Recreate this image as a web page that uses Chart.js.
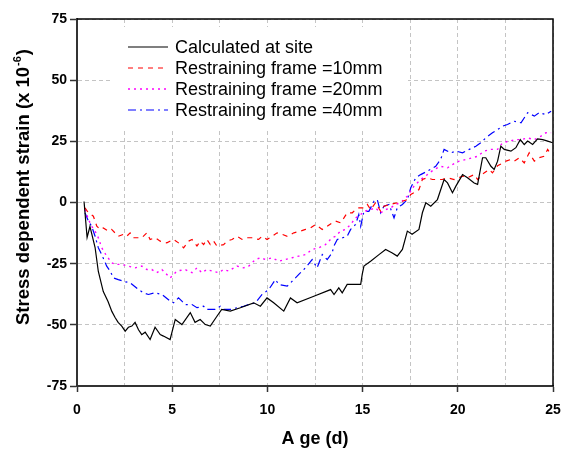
<!DOCTYPE html>
<html>
<head>
<meta charset="utf-8">
<title>Stress dependent strain</title>
<script src="https://cdn.jsdelivr.net/npm/chart.js@4.4.0/dist/chart.umd.min.js"></script>
<style>
  body { margin: 0; background: #fff; }
  canvas { display: block; }
</style>
</head>
<body>
<canvas id="strain-chart" width="565" height="450"></canvas>
<script>
// Age (d) and stress dependent strain (x 10^-6) for each curve
const siteAge = [0.37, 0.53, 0.68, 0.95, 1.12, 1.38, 1.63, 1.83, 2.0, 2.16, 2.35, 2.53, 2.7, 2.88, 3.05, 3.23, 3.4, 3.58, 3.84, 4.1, 4.37, 4.54, 4.89, 5.16, 5.51, 5.95, 6.2, 6.47, 6.74, 7.0, 7.35, 7.6, 8.05, 8.58, 9.28, 9.63, 9.98, 10.33, 10.86, 11.21, 11.56, 12.44, 13.32, 13.5, 13.75, 13.93, 14.19, 14.54, 14.9, 14.98, 15.07, 15.42, 15.86, 16.21, 16.56, 16.82, 17.09, 17.35, 17.6, 17.96, 18.14, 18.32, 18.58, 18.93, 19.28, 19.46, 19.72, 19.9, 20.25, 20.51, 20.86, 21.04, 21.3, 21.47, 21.74, 21.91, 22.09, 22.26, 22.44, 22.79, 23.05, 23.28, 23.49, 23.67, 23.93, 24.19, 24.46, 24.72, 24.98];
const siteStrain = [0.4, -14.3, -9.8, -18.4, -28.2, -36.4, -40.5, -44.5, -47, -49, -50.5, -52.6, -51, -50.5, -49, -52, -54, -53, -56, -51, -54, -54.6, -56, -47.8, -49.9, -45, -49, -47.8, -49.9, -50.5, -46.5, -43.7, -44.4, -43, -41, -42.4, -39, -41, -44.4, -39, -41, -38.3, -35.6, -37.6, -34.9, -36.9, -33.5, -33.5, -33.5, -29.4, -26, -24, -21.3, -19.2, -20.6, -21.9, -19.2, -11.7, -13, -11, -4.2, -0.1, -1.5, 1.2, 9.4, 8.0, 4, 6.7, 11.4, 10.1, 8, 7.4, 18.3, 18.3, 14.8, 13.5, 16.9, 23, 21.7, 21, 22.4, 25.7, 23.7, 25.1, 23.7, 26, 25.7, 25.1, 24.4];

const frame10Age = [0.42, 0.6, 0.86, 1.04, 1.21, 1.38, 1.65, 1.82, 2.17, 2.44, 2.61, 2.79, 2.96, 3.4, 3.67, 3.84, 4.1, 4.37, 4.72, 5.07, 5.33, 5.6, 5.86, 6.04, 6.3, 6.47, 6.65, 6.82, 7.0, 7.18, 7.35, 7.7, 7.88, 8.14, 8.4, 8.67, 8.93, 9.19, 9.54, 9.72, 9.98, 10.25, 10.51, 10.77, 11.04, 11.39, 11.74, 12.0, 12.26, 12.53, 12.88, 13.14, 13.4, 13.58, 13.84, 14.02, 14.19, 14.46, 14.63, 14.8, 15.07, 15.25, 15.42, 15.68, 15.95, 16.12, 16.47, 16.82, 17.09, 17.35, 17.53, 17.7, 17.96, 18.14, 18.4, 18.67, 19.19, 19.46, 19.81, 20.25, 20.51, 20.86, 21.04, 21.38, 21.65, 21.82, 22.09, 22.53, 22.79, 22.96, 23.23, 23.49, 23.75, 24.02, 24.28, 24.54, 24.72, 24.9];
const frame10Strain = [-2.2, -4.2, -5.6, -9.7, -11, -10.4, -11.7, -11, -13.8, -13, -13.8, -12.4, -14.4, -14.4, -12.4, -15.1, -14.4, -15.8, -16.5, -15.1, -16.5, -18.5, -15.8, -15.1, -17.8, -15.8, -17.2, -15.1, -17.2, -15.8, -17.8, -17.2, -15.8, -15.1, -13.8, -15.1, -14.4, -14.4, -15.1, -13.8, -15.1, -13.8, -12.4, -13, -13.8, -12.4, -11.7, -11, -10.4, -9.0, -11, -9.7, -8.3, -7.6, -8.3, -6.3, -4.2, -4.2, -2.9, -2.2, -2.2, -0.8, -2.9, -0.1, -3.6, -1.5, -0.8, -0.1, 0.5, 1.2, 3.3, 4, 5.3, 9.4, 10.1, 9.4, 9.4, 10.1, 9.4, 10.8, 10.1, 11.4, 9.4, 12.1, 13.5, 12.1, 15, 16.9, 17.6, 16.9, 18.3, 16.2, 20.3, 16.9, 18.3, 18.9, 21.7, 19.6];

const frame20Age = [0.42, 0.6, 0.77, 0.95, 1.12, 1.3, 1.56, 1.82, 2.0, 2.35, 2.7, 3.05, 3.4, 3.67, 3.93, 4.19, 4.46, 4.89, 5.25, 5.68, 6.04, 6.3, 6.56, 6.82, 7.09, 7.44, 7.7, 7.96, 8.4, 8.75, 9.02, 9.37, 9.63, 9.9, 10.25, 10.6, 10.95, 11.3, 11.65, 12.0, 12.35, 12.7, 13.05, 13.4, 13.58, 13.84, 14.1, 14.37, 14.63, 14.9, 15.07, 15.42, 15.68, 15.95, 16.21, 16.47, 16.74, 17.0, 17.35, 17.7, 18.05, 18.4, 18.75, 19.1, 19.46, 19.72, 20.07, 20.42, 20.77, 21.04, 21.38, 21.74, 22.09, 22.35, 22.7, 23.05, 23.32, 23.67, 24.02, 24.37, 24.63, 24.9];
const frame20Strain = [-2.9, -6.9, -9.7, -11.7, -14.4, -18.5, -21.9, -24.6, -25.3, -25.3, -26, -26.7, -26, -27.4, -27.4, -28.7, -27.4, -30.8, -28, -27.4, -28.7, -26.7, -28.7, -27.4, -28, -28.7, -27.4, -28, -26, -26.7, -26, -23.3, -22.6, -23.3, -22.6, -24, -23.3, -22.6, -21.9, -21.3, -19.2, -18.5, -17.2, -14.4, -13.8, -11.7, -11, -9, -6.3, -4.9, -3.6, -2.9, -2.2, -4.2, -2.9, -2.2, -0.8, -0.1, 2.6, 6.7, 9.4, 11.4, 13.5, 14.8, 14.2, 15.5, 16.9, 17.6, 18.3, 18.9, 21, 21.7, 21.7, 24.4, 25.1, 25.7, 25.7, 26.4, 25.7, 27.1, 28.5, 28.5];

const frame40Age = [0.42, 0.6, 0.77, 0.95, 1.12, 1.3, 1.56, 1.74, 1.91, 2.17, 2.53, 2.79, 3.23, 3.49, 3.75, 4.1, 4.46, 4.89, 5.07, 5.33, 5.51, 5.68, 6.04, 6.3, 6.65, 6.82, 7.26, 7.53, 7.7, 8.05, 8.4, 8.75, 9.02, 9.37, 9.72, 10.07, 10.42, 10.6, 11.04, 11.39, 11.65, 12.0, 12.35, 12.61, 12.88, 13.14, 13.4, 13.49, 13.67, 14.19, 14.37, 14.63, 14.8, 14.9, 15.07, 15.33, 15.6, 15.77, 15.95, 16.12, 16.39, 16.65, 16.82, 17.09, 17.35, 17.53, 17.79, 18.05, 18.4, 18.84, 19.1, 19.28, 19.63, 19.9, 20.25, 20.6, 20.95, 21.21, 21.47, 21.82, 22.09, 22.35, 22.61, 22.96, 23.32, 23.67, 24.02, 24.28, 24.63, 24.9];
const frame40Strain = [-4.2, -7.6, -9.7, -13.8, -18.5, -21.3, -26, -28, -30.8, -31.5, -32.4, -32.8, -35.6, -36.9, -37.6, -36.9, -37.6, -40.3, -41, -39, -40.3, -41.7, -41.7, -43, -42.4, -43.7, -43.7, -42.4, -43.7, -43.7, -43, -42.4, -41.7, -41, -37.6, -35.6, -31.5, -33.5, -34.2, -31.5, -29.4, -26.7, -23.3, -26.7, -21.3, -23.3, -20.6, -17.8, -15.1, -13.8, -11, -9, -4.9, -9.7, -3.6, -3.6, 0.5, 1.2, -4.2, -1.5, -0.8, -6.3, -2.2, -0.8, 1.2, 6, 10.1, 11.4, 12.8, 14.8, 17.6, 21.7, 20.3, 21, 20.3, 21.7, 23, 24.4, 26.4, 28.5, 29.8, 31.2, 31.9, 33.2, 32.6, 36.7, 35.3, 36.7, 35.9, 37.3];

const seriesLabels = ['Calculated at site', 'Restraining frame =10mm', 'Restraining frame =20mm', 'Restraining frame =40mm'];
const xTickLabels = [0, 5, 10, 15, 20, 25];
const yTickLabels = [-75, -50, -25, 0, 25, 50, 75];

const FONT = '"Liberation Sans", Arial, sans-serif';

function toPoints(ages, values) {
  return ages.map((a, i) => ({ x: a, y: values[i] }));
}

// top and right edges of the plot box
const frameBox = {
  id: 'frameBox',
  afterDatasetsDraw(chart) {
    const { ctx, chartArea: a } = chart;
    ctx.save();
    ctx.strokeStyle = '#000';
    ctx.lineWidth = 1.5;
    ctx.beginPath();
    ctx.moveTo(a.left, a.top);
    ctx.lineTo(a.right, a.top);
    ctx.lineTo(a.right, a.bottom);
    ctx.stroke();
    ctx.restore();
  }
};

// legend sits inside the plot, upper left, on a white patch
const innerLegend = {
  id: 'innerLegend',
  afterDatasetsDraw(chart) {
    const { ctx, chartArea: a } = chart;
    const x0 = a.left + 51;
    const y0 = a.top + 28;
    ctx.save();
    ctx.fillStyle = '#fff';
    ctx.fillRect(a.left + 33, a.top + 8, 298, 103);
    ctx.font = '18px ' + FONT;
    ctx.textBaseline = 'middle';
    chart.data.datasets.forEach((ds, i) => {
      const y = y0 + i * 21;
      ctx.strokeStyle = ds.borderColor;
      ctx.lineWidth = ds.borderWidth;
      ctx.setLineDash(ds.borderDash || []);
      ctx.beginPath();
      ctx.moveTo(x0, y);
      ctx.lineTo(x0 + 40, y);
      ctx.stroke();
      ctx.fillStyle = '#000';
      ctx.fillText(ds.label, x0 + 47, y + 1);
    });
    ctx.restore();
  }
};

// rotated y title with a superscript exponent
const yTitle = {
  id: 'yTitle',
  afterDraw(chart) {
    const ctx = chart.ctx;
    const main = 'Stress dependent strain (x 10';
    const sup = '-6';
    ctx.save();
    ctx.font = 'bold 18.5px ' + FONT;
    const wMain = ctx.measureText(main).width;
    const wClose = ctx.measureText(')').width;
    ctx.font = 'bold 11px ' + FONT;
    const wSup = ctx.measureText(sup).width;
    const total = wMain + wSup + 2 + wClose;
    ctx.translate(29, 187 + total / 2);
    ctx.rotate(-Math.PI / 2);
    ctx.fillStyle = '#000';
    ctx.textBaseline = 'alphabetic';
    ctx.font = 'bold 18.5px ' + FONT;
    ctx.fillText(main, 0, 0);
    ctx.font = 'bold 11px ' + FONT;
    ctx.fillText(sup, wMain + 1, -8);
    ctx.font = 'bold 18.5px ' + FONT;
    ctx.fillText(')', wMain + wSup + 2, 0);
    ctx.restore();
  }
};

const gridColor = '#c4c4c4';

new Chart(document.getElementById('strain-chart').getContext('2d'), {
  type: 'line',
  data: {
    datasets: [
      {
        label: seriesLabels[0],
        data: toPoints(siteAge, siteStrain),
        borderColor: '#000000',
        borderWidth: 1.2,
        borderDash: []
      },
      {
        label: seriesLabels[1],
        data: toPoints(frame10Age, frame10Strain),
        borderColor: '#ff0000',
        borderWidth: 1.2,
        borderDash: [5, 5]
      },
      {
        label: seriesLabels[2],
        data: toPoints(frame20Age, frame20Strain),
        borderColor: '#ff00ff',
        borderWidth: 1.4,
        borderDash: [2, 4]
      },
      {
        label: seriesLabels[3],
        data: toPoints(frame40Age, frame40Strain),
        borderColor: '#0000ff',
        borderWidth: 1.2,
        borderDash: [8, 4, 2, 4]
      }
    ]
  },
  options: {
    responsive: false,
    animation: false,
    events: [],
    layout: { padding: { top: 19, right: 12, left: 0, bottom: 0 } },
    elements: {
      point: { radius: 0 },
      line: { tension: 0, fill: false }
    },
    plugins: {
      legend: { display: false },
      tooltip: { enabled: false }
    },
    scales: {
      x: {
        type: 'linear',
        min: 0,
        max: 25,
        afterFit(scale) {
          scale.height = 64;
          // the end labels may hang past the plot edges
          scale.paddingLeft = 0;
          scale.paddingRight = 0;
        },
        ticks: {
          stepSize: 2.5,
          autoSkip: false,
          maxRotation: 0,
          padding: 10,
          color: '#000',
          font: { family: FONT, size: 14, weight: 'bold' },
          callback: v => (xTickLabels.includes(v) ? String(v) : '')
        },
        grid: {
          color: gridColor,
          lineWidth: 1,
          tickLength: 6,
          tickWidth: 1.5,
          tickBorderDash: [],
          tickColor: ctx => (xTickLabels.includes(ctx.tick.value) ? '#333' : 'rgba(0,0,0,0)')
        },
        border: { display: true, color: '#333', width: 2, dash: [4, 3] },
        title: {
          display: true,
          text: 'A ge (d)',
          color: '#000',
          padding: { top: 0, bottom: 0 },
          font: { family: FONT, size: 18, weight: 'bold' }
        }
      },
      y: {
        min: -75,
        max: 75,
        afterFit(scale) { scale.width = 77; },
        afterBuildTicks(scale) { scale.ticks = yTickLabels.map(v => ({ value: v })); },
        ticks: {
          padding: 3,
          color: '#000',
          font: { family: FONT, size: 14, weight: 'bold' }
        },
        grid: {
          color: gridColor,
          lineWidth: 1,
          tickLength: 7,
          tickWidth: 1.5,
          tickBorderDash: [],
          tickColor: '#333'
        },
        border: { display: true, color: '#333', width: 2, dash: [4, 3] }
      }
    }
  },
  plugins: [frameBox, innerLegend, yTitle]
});
</script>
</body>
</html>
